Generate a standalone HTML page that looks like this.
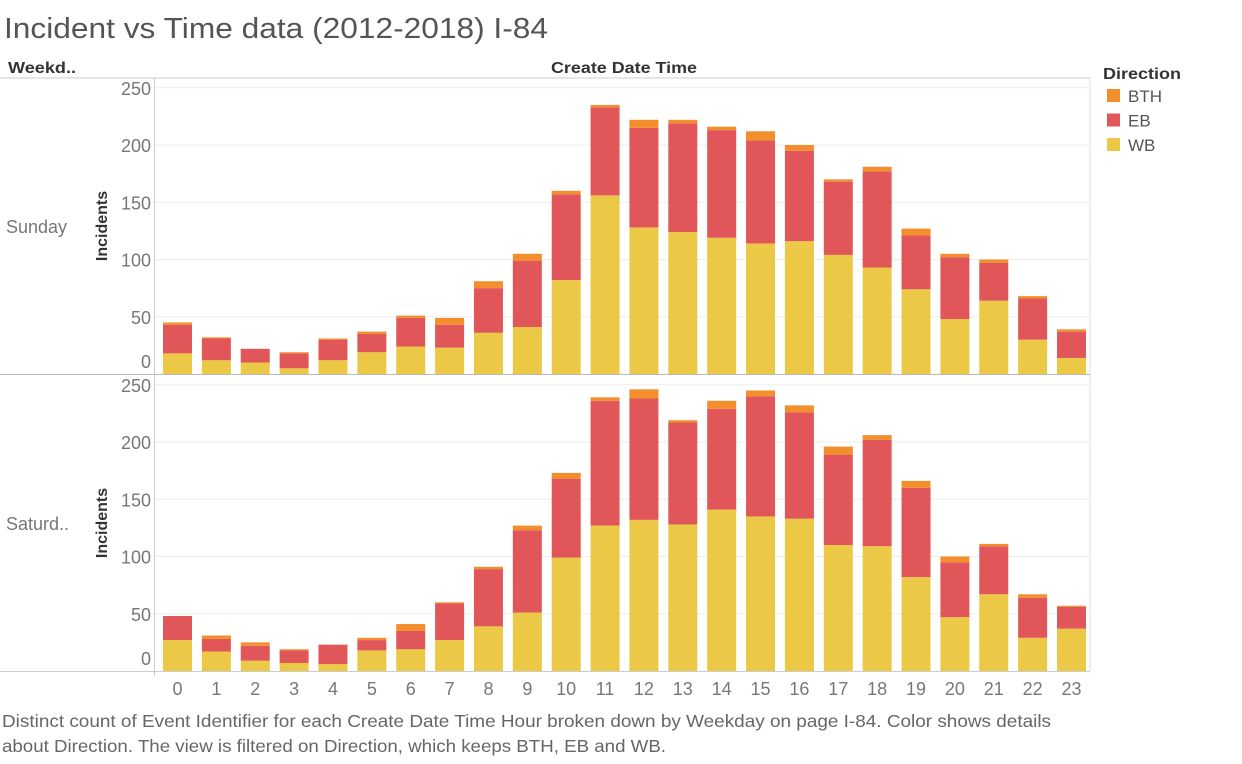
<!DOCTYPE html>
<html><head><meta charset="utf-8">
<style>
body{margin:0;background:#fff;font-family:"Liberation Sans",sans-serif;}
svg text{font-family:"Liberation Sans",sans-serif;}
</style></head>
<body>
<svg id="c" width="1242" height="759" xmlns="http://www.w3.org/2000/svg">
<text x="4" y="38" font-size="29" fill="#555" textLength="544" lengthAdjust="spacingAndGlyphs">Incident vs Time data (2012-2018) I-84</text>
<text x="8" y="73" font-size="16" font-weight="bold" fill="#333" textLength="68" lengthAdjust="spacingAndGlyphs">Weekd..</text>
<text x="551" y="73" font-size="16" font-weight="bold" fill="#333" textLength="146" lengthAdjust="spacingAndGlyphs">Create Date Time</text>
<line x1="0" y1="78" x2="1090" y2="78" stroke="#ccc"/>
<line x1="1090" y1="78" x2="1090" y2="671" stroke="#ddd"/>
<line x1="0" y1="374.5" x2="1090" y2="374.5" stroke="#bbb"/>
<line x1="0" y1="671.5" x2="1090" y2="671.5" stroke="#ccc"/>
<line x1="154.5" y1="78" x2="154.5" y2="676" stroke="#ccc"/>
<g>
<text x="1103" y="79" font-size="16" font-weight="bold" fill="#333" textLength="78" lengthAdjust="spacingAndGlyphs">Direction</text>
</g>
<text x="2" y="727" font-size="17.5" fill="#666" textLength="1049" lengthAdjust="spacingAndGlyphs">Distinct count of Event Identifier for each Create Date Time Hour broken down by Weekday on page I-84.  Color shows details</text>
<text x="2" y="752" font-size="17.5" fill="#666" textLength="664" lengthAdjust="spacingAndGlyphs">about Direction. The view is filtered on Direction, which keeps BTH, EB and WB.</text>
</svg>
<script>
const hours=[0,1,2,3,4,5,6,7,8,9,10,11,12,13,14,15,16,17,18,19,20,21,22,23];
const yTicks=[0,50,100,150,200,250];
const panels=["Sunday","Saturd.."];
const sunWB=[18,12,10,5,12,19,24,23,36,41,82,156,128,124,119,114,116,104,93,74,48,64,30,14];
const sunEB=[25,19,12,13,18,16,25,20,39,58,75,77,87,95,94,90,79,64,84,47,54,33,36,23];
const sunBTH=[2,1,0,1,1,2,2,6,6,6,3,2,7,3,3,8,5,2,4,6,3,3,2,2];
const satWB=[27,17,9,7,6,18,19,27,39,51,99,127,132,128,141,135,133,110,109,82,47,67,29,37];
const satEB=[21,11,13,11,17,9,16,32,50,72,69,109,106,89,88,105,93,79,93,78,48,42,35,19];
const satBTH=[0,3,3,1,0,2,6,1,2,4,5,3,8,2,7,5,6,7,4,6,5,2,3,1];
const seriesNames=["WB","EB","BTH"];
const colors={WB:"#ebc947",EB:"#e15759",BTH:"#f28e2b"};
const svg=document.getElementById('c');
const NS="http://www.w3.org/2000/svg";
function mk(t,a){const e=document.createElementNS(NS,t);for(const k in a)e.setAttribute(k,a[k]);svg.appendChild(e);return e;}
const x0=177.5,pitch=38.87,bw=29,scale=1.145;
const xPos=i=>x0+i*pitch;
const panelData=[[sunWB,sunEB,sunBTH],[satWB,satEB,satBTH]];
const baselines=[374,671];
panelData.forEach((pd,p)=>{
  const base=baselines[p];
  const yPos=v=>base-v*scale;
  yTicks.forEach(t=>{
    if(t>0){const g=mk('line',{x1:155,x2:1090,y1:yPos(t),y2:yPos(t),stroke:'#eee'});
    
    }
    const lb=mk('text',{x:151,y:yPos(t)+(t===0?-6:7),'font-size':18,fill:'#777','text-anchor':'end'});
    lb.textContent=t;
    
    
  });
  const at=mk('text',{x:0,y:0,'font-size':16,'font-weight':'bold',fill:'#333','text-anchor':'middle',transform:`translate(107,${base-148}) rotate(-90)`});
  at.textContent="Incidents";
  
  
  const rl=mk('text',{x:6,y:base-141,'font-size':18,fill:'#777'});
  rl.textContent=panels[p];
  
  
  hours.forEach((h,i)=>{
    let cum=0;
    pd.forEach((arr,s)=>{
      const v=arr[i];
      if(v<=0)return;
      const r=mk('rect',{x:xPos(i)-bw/2,y:yPos(cum+v),width:bw,height:v*scale,fill:colors[seriesNames[s]]});
      
      
      cum+=v;
    });
  });
});
hours.forEach((h,i)=>{
  const t=mk('text',{x:xPos(i),y:695,'font-size':18,fill:'#777','text-anchor':'middle'});
  t.textContent=h;
  
  
});
["BTH","EB","WB"].forEach((n,k)=>{
  const r=mk('rect',{x:1107,y:89+k*24.5,width:13,height:13,fill:colors[n]});
  
  
  const t=mk('text',{x:1128,y:102+k*24.5,'font-size':17,fill:'#555'});
  t.textContent=n;
  
  
});
</script>
</body></html>
